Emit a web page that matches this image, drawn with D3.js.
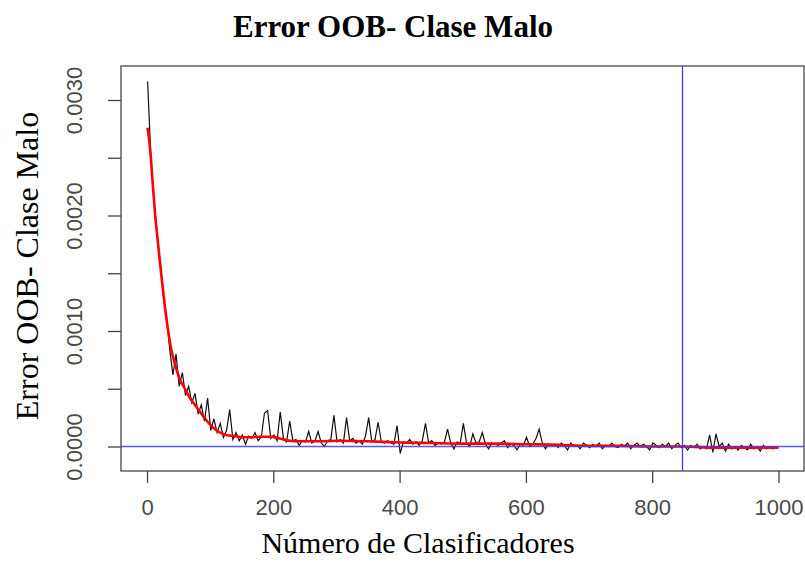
<!DOCTYPE html>
<html>
<head>
<meta charset="utf-8">
<script src="https://cdn.jsdelivr.net/npm/d3@7"></script>
<style>
  html, body { margin: 0; padding: 0; background: #fff; }
  svg { display: block; }
</style>
</head>
<body>
<svg id="chart" width="805" height="573"></svg>
<script>
// OOB error (units of 1e-5) for classifiers 1, 6, 11, ... (every 5th tree)
const oobStep = 5;
const oobError = [
  316, 252, 214, 184, 158, 130, 112, 84, 62, 80,
  52, 64, 44, 52, 38, 46, 28, 36, 22, 42,
  14, 24, 12, 20, 8, 14, 32, 6, 12, 5,
  10, 2, 9, 7, 12, 5, 8, 29, 31, 7,
  10, 5, 30, 7, 4, 22, 5, 6, 1, 5,
  4, 13, 3, 5, 13, 3, 0, 5, 6, 27,
  4, 6, 3, 25, 5, 7, 3, 5, 2, 9,
  25, 4, 6, 21, 4, 3, 5, 3, 2, 18,
  -6, 4, 3, 6, 2, 4, 1, 5, 20, 3,
  5, 1, 3, 2, 4, 15, 3, -2, 4, 3,
  20, 3, 0, 11, 3, 4, 12, 2, -2, 3,
  2, 1, 3, 5, -1, 2, 1, -3, 2, 1,
  8, 0, 2, 7, 15, 3, -2, 2, 1, 2,
  -1, 3, 1, -3, 3, 0, 1, -2, 3, 1,
  -1, 2, 0, 3, -2, 1, 0, 3, 0, -1,
  2, 0, 3, -2, 1, 3, 0, 2, 0, -3,
  3, 1, -1, 2, 0, 3, -2, 1, 3, -1,
  1, -3, 1, -1, 2, -2, 0, -2, 10, -5,
  11, 0, 3, -4, 2, -2, 0, -3, 1, -1,
  -3, 2, -2, 0, -4, 1, -2, -1, -2, -1
];

// Smoothed trend of the OOB error (units of 1e-5)
const trendX = [1, 5, 9, 13, 17, 21, 25, 29, 33, 37, 41, 46, 52, 60, 68, 76, 84, 92, 100,
                108, 116, 125, 139, 150, 163, 180, 195, 210, 226, 242, 258, 280, 300, 350,
                400, 450, 500, 550, 600, 650, 700, 750, 800, 850, 900, 950, 1000];
const trendY = [276, 257, 228, 200, 178, 157, 137, 118, 102, 88, 78, 68, 58, 50, 42, 36, 30, 24, 19,
                15, 12, 10, 9, 8, 8, 8.5, 8.5, 7, 5, 4.5, 4.5, 4.5, 5, 4.5,
                3.5, 3, 2.5, 2.5, 2, 1.5, 0.5, 0.5, 0, 0, -1, -1, -1];

const xTicks = [0, 200, 400, 600, 800, 1000];
const yTicks = [0, 0.0005, 0.001, 0.0015, 0.002, 0.0025, 0.003];
const yTickLabels = ["0.0000", "", "0.0010", "", "0.0020", "", "0.0030"];
const selectedTrees = 848;
const unit = 1e-5;

const svg = d3.select("#chart");
const box = { left: 121, right: 804, top: 66, bottom: 471 };

const x = d3.scaleLinear().domain([0, 1000]).range([147, 778.5]);
const y = d3.scaleLinear().domain([0, 0.003]).range([446.5, 100]);

svg.append("defs").append("clipPath").attr("id", "plotclip")
  .append("rect")
  .attr("x", box.left).attr("y", box.top)
  .attr("width", box.right - box.left).attr("height", box.bottom - box.top);

const plot = svg.append("g").attr("clip-path", "url(#plotclip)");

// raw OOB error series
const rawPts = oobError.map((v, i) => [1 + i * oobStep, v * unit]);
plot.append("path")
  .datum(rawPts)
  .attr("fill", "none")
  .attr("stroke", "#111")
  .attr("stroke-width", 1.2)
  .attr("d", d3.line().x(d => x(d[0])).y(d => y(d[1])));

// smoothed trend
const trendPts = trendX.map((v, i) => [v, trendY[i] * unit]);
plot.append("path")
  .datum(trendPts)
  .attr("fill", "none")
  .attr("stroke", "#f00")
  .attr("stroke-width", 2.6)
  .attr("stroke-linejoin", "round")
  .attr("d", d3.line().curve(d3.curveMonotoneX).x(d => x(d[0])).y(d => y(d[1])));

// reference lines: zero error and chosen number of trees
plot.append("line")
  .attr("x1", box.left).attr("x2", box.right)
  .attr("y1", y(0)).attr("y2", y(0))
  .attr("stroke", "#3c3cf0").attr("stroke-width", 1.3).attr("stroke-opacity", 0.85);
plot.append("line")
  .attr("x1", x(selectedTrees)).attr("x2", x(selectedTrees))
  .attr("y1", box.top).attr("y2", box.bottom)
  .attr("stroke", "#3c3cf0").attr("stroke-width", 1.3);

// plot frame
svg.append("rect")
  .attr("x", box.left).attr("y", box.top)
  .attr("width", box.right - box.left).attr("height", box.bottom - box.top)
  .attr("fill", "none").attr("stroke", "#555").attr("stroke-width", 1.4);

// x axis
const xAxis = d3.axisBottom(x).tickValues(xTicks).tickSize(12).tickPadding(16)
  .tickFormat(d3.format("d"));
const gx = svg.append("g").attr("transform", `translate(0,${box.bottom})`).call(xAxis);
gx.select(".domain").remove();
gx.selectAll(".tick line").attr("stroke", "#444").attr("stroke-width", 1.3);
gx.selectAll(".tick text")
  .attr("fill", "#4a4a4a")
  .style("font-family", "'Liberation Sans', Arial, sans-serif")
  .style("font-size", "22px");

// y axis (labels rotated, reading upwards)
const yAxis = d3.axisLeft(y).tickValues(yTicks).tickSize(13)
  .tickFormat((d, i) => yTickLabels[i]);
const gy = svg.append("g").attr("transform", `translate(${box.left},0)`).call(yAxis);
gy.select(".domain").remove();
gy.selectAll(".tick line").attr("stroke", "#444").attr("stroke-width", 1.3);
gy.selectAll(".tick text")
  .attr("x", null).attr("dy", null)
  .attr("transform", "translate(-39,0) rotate(-90)")
  .attr("text-anchor", "middle")
  .attr("fill", "#4a4a4a")
  .style("font-family", "'Liberation Sans', Arial, sans-serif")
  .style("font-size", "22px");

// titles
svg.append("text")
  .attr("x", 393).attr("y", 37)
  .attr("text-anchor", "middle")
  .style("font-family", "'Liberation Serif', 'Times New Roman', serif")
  .style("font-weight", "bold")
  .style("font-size", "31px")
  .text("Error OOB- Clase Malo");

svg.append("text")
  .attr("x", 418).attr("y", 553)
  .attr("text-anchor", "middle")
  .style("font-family", "'Liberation Serif', 'Times New Roman', serif")
  .style("font-size", "30px")
  .text("Número de Clasificadores");

svg.append("text")
  .attr("transform", "translate(38,266) rotate(-90)")
  .attr("text-anchor", "middle")
  .style("font-family", "'Liberation Serif', 'Times New Roman', serif")
  .style("font-size", "32px")
  .text("Error OOB- Clase Malo");
</script>
</body>
</html>
